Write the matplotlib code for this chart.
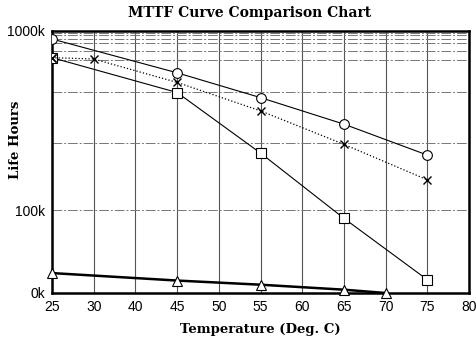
import numpy as np
import matplotlib
matplotlib.use('Agg')
import matplotlib.pyplot as plt

# x axis is evenly spaced categories (as in the original chart)
temp_labels = ['25', '30', '40', '45', '50', '55', '60', '65', '70', '75', '80']

# life hours in k
circle_t = [25, 45, 55, 65, 75]
circle_v = [700, 360, 289, 237, 182]

cross_t = [25, 30, 45, 55, 65, 75]
cross_v = [426, 411, 330, 263, 198, 145]

square_t = [25, 45, 55, 65, 75]
square_v = [426, 299, 185, 90, 16]

tri_t = [25, 45, 55, 65, 70]
tri_v = [24, 15, 10, 4, 0]

# odd non-linear y scale of the original (value k -> height from bottom)
scale_vals = np.array([0, 100, 200, 300, 400, 500, 600, 700, 800, 900, 1000])
scale_pos = 293 - np.array([293, 210, 143, 92, 60, 51, 43, 39, 35, 33, 31])


def fwd(v):
    return np.interp(v, scale_vals, scale_pos)


def inv(p):
    return np.interp(p, scale_pos, scale_vals)


def xpos(ts):
    return [temp_labels.index(str(t)) for t in ts]


plt.rcParams['font.family'] = ['Liberation Sans', 'DejaVu Sans']
serif = 'DejaVu Serif'

fig = plt.figure(figsize=(4.76, 3.42), dpi=100)
ax = fig.add_axes([52 / 476, 1 - 293 / 342, (469 - 52) / 476, (293 - 31) / 342])
ax.set_yscale('function', functions=(fwd, inv))

ax.plot(xpos(circle_t), circle_v, '-', color='black', lw=0.8, marker='o',
        ms=7, mfc='white', mec='black', mew=0.8, zorder=4)
ax.plot(xpos(cross_t), cross_v, ':', color='black', lw=0.9, marker='x',
        ms=6, mec='black', mew=1.0, zorder=5)
ax.plot(xpos(square_t), square_v, '-', color='black', lw=0.8, marker='s',
        ms=6.5, mfc='white', mec='black', mew=0.8, zorder=4)
ax.plot(xpos(tri_t), tri_v, '-', color='black', lw=1.8, marker='^',
        ms=7, mfc='white', mec='black', mew=0.8, zorder=4, clip_on=False)
# cross on top of square at 25
ax.plot(xpos([25]), [cross_v[0]], 'x', color='black', ms=6, mew=1.0, zorder=6)

ax.set_xlim(0, len(temp_labels) - 1)
ax.set_ylim(0, 1000)
ax.set_xticks(range(len(temp_labels)))
ax.set_xticklabels(temp_labels)
ax.set_yticks([0, 100, 1000])
ax.set_yticklabels(['0k', '100k', '1000k'])
ax.set_yticks([200, 300, 400, 500, 600, 700, 800, 900], minor=True)
ax.tick_params(axis='both', which='both', length=0, labelsize=10, pad=5)
ax.tick_params(axis='y', pad=5)

ax.grid(axis='x', color='#555555', lw=0.8)
ax.grid(axis='y', which='both', color='#777777', lw=0.7, ls=(0, (10, 2, 2, 2)))
ax.set_axisbelow(True)
for s in ax.spines.values():
    s.set_linewidth(1.8)

fig.text(250 / 476, 1 - 13 / 342, 'MTTF Curve Comparison Chart', family=serif,
         fontweight='bold', fontsize=10, ha='center', va='center')
fig.text(260 / 476, 1 - 329 / 342, 'Temperature (Deg. C)', family=serif,
         fontweight='bold', fontsize=9.5, ha='center', va='center')
fig.text(16 / 476, 1 - 140 / 342, 'Life Hours', family=serif, fontweight='bold',
         fontsize=9.5, ha='center', va='center', rotation=90)

fig.savefig('out.png', dpi=100)
